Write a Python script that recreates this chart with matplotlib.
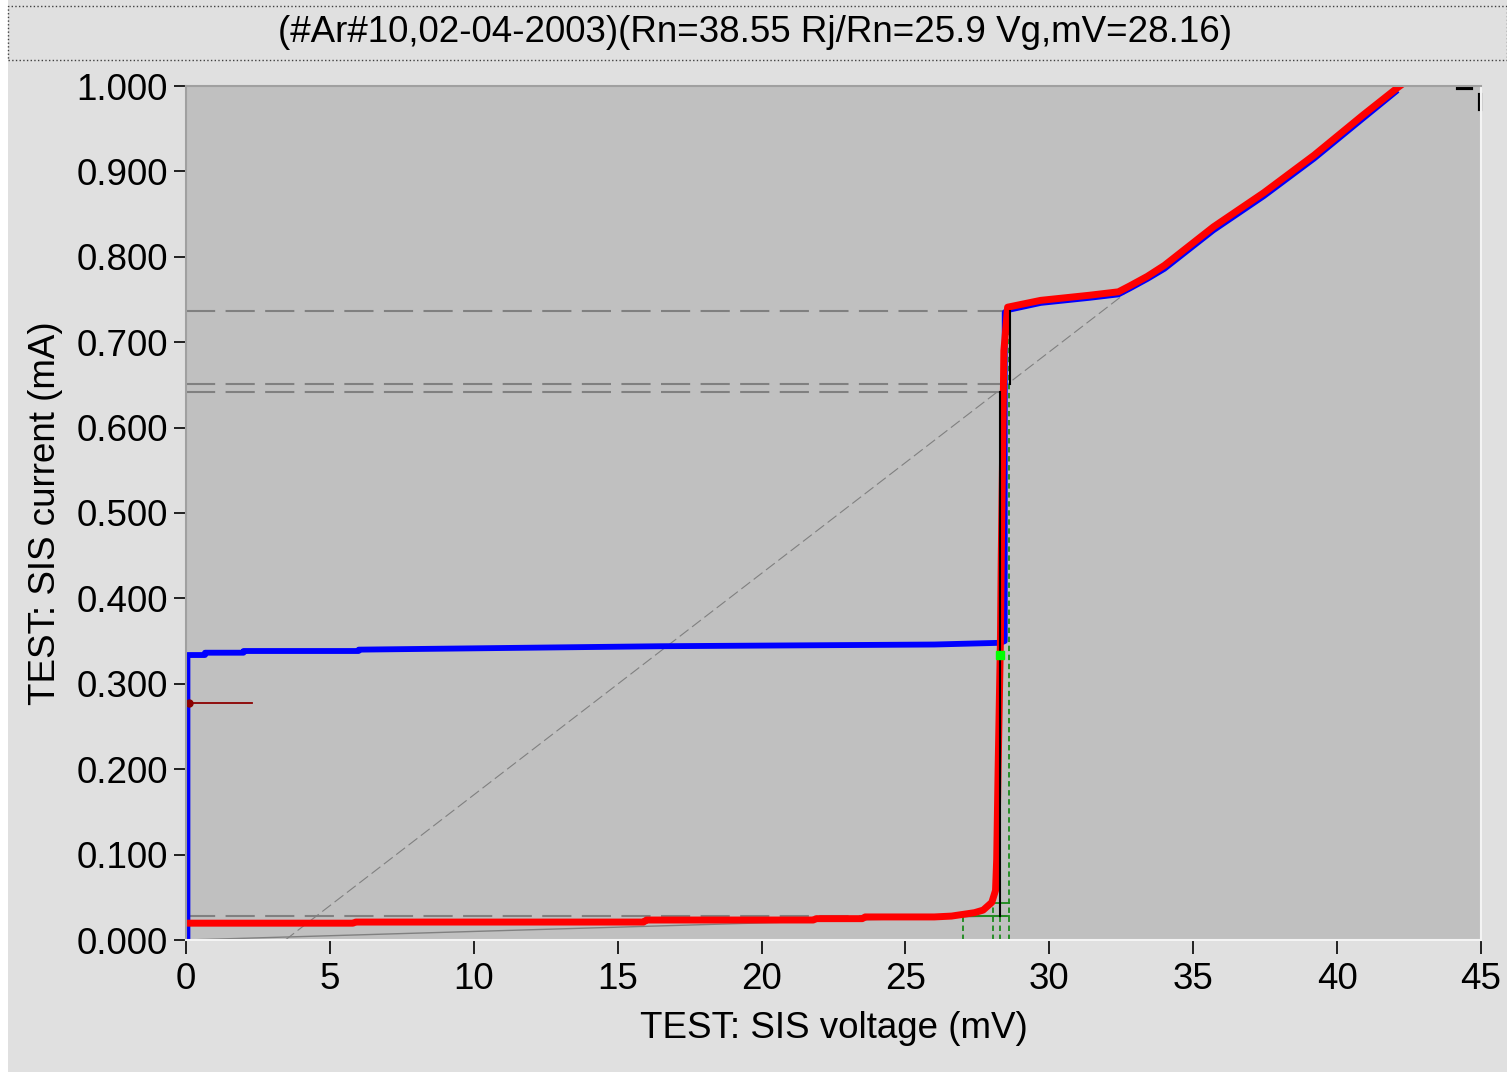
import matplotlib
matplotlib.use("Agg")
import matplotlib.pyplot as plt
from matplotlib.patches import Rectangle
import numpy as np

plt.rcParams['font.family'] = ['Liberation Sans', 'DejaVu Sans']

# measured IV curve (unpumped), mV / mA
v_dc = [0.0, 5.8, 5.9, 15.9, 16.0, 21.8, 21.9, 23.5, 23.6, 26.0, 26.6, 27.4, 27.7,
        28.0, 28.13, 28.17, 28.22, 28.3, 28.33, 28.38, 28.42, 28.55, 29.7, 31.4,
        32.4, 32.8, 33.4, 34.0, 35.7, 37.45, 39.2, 40.9, 42.1, 42.3]
i_dc = [0.0197, 0.0197, 0.021, 0.021, 0.0234, 0.0234, 0.025, 0.025, 0.027, 0.027,
        0.028, 0.032, 0.035, 0.044, 0.058, 0.094, 0.20, 0.35, 0.45, 0.58, 0.69,
        0.741, 0.749, 0.755, 0.759, 0.766, 0.777, 0.790, 0.835, 0.875, 0.919, 0.966,
        0.998, 1.003]

# pumped IV curve
v_lo = [0.05, 0.05, 0.66, 0.66, 2.0, 2.0, 6.0, 6.0, 16.5, 26.0, 28.3, 28.45,
        28.45, 28.6, 29.7, 31.4, 32.4, 32.8, 33.4, 34.0, 35.7, 37.45, 39.2, 40.9, 42.1]
i_lo = [0.0, 0.3337, 0.3337, 0.3364, 0.3364, 0.3384, 0.3384, 0.340, 0.344, 0.346,
        0.348, 0.350, 0.735, 0.738, 0.746, 0.752, 0.756, 0.763, 0.774, 0.786, 0.831,
        0.871, 0.915, 0.962, 0.995]

v_gap = 28.16
rn = 38.55
rj = rn * 25.9
v_off = 3.45          # intercept of the normal-state line
i_levels = [0.737, 0.651, 0.642, 0.028]
v_marker, i_marker = 0.1, 0.2775
v_green, i_green = 28.3, 0.334

title = "(#Ar#10,02-04-2003)(Rn=38.55 Rj/Rn=25.9 Vg,mV=28.16)"

W, H = 1507, 1072
fig = plt.figure(figsize=(W / 100, H / 100), dpi=100, facecolor='#e0e0e0')

# white strip on the left and the dotted caption box
fig.add_artist(Rectangle((0, 0), 8 / W, 1, transform=fig.transFigure,
                         facecolor='white', edgecolor='none'))
fig.add_artist(Rectangle((8 / W, 1 - 60 / H), 1 - 8 / W, 54 / H, transform=fig.transFigure,
                         facecolor='#e0e0e0', edgecolor='#404040', linestyle=':', lw=1))
fig.text(0.501, 1 - 33 / H, title, ha='center', va='center', fontsize=26.5)

ax = fig.add_axes([186 / W, 132 / H, 1295 / W, 854 / H], facecolor='#c0c0c0')
ax.set_xlim(0, 45)
ax.set_ylim(0, 1.0)

# horizontal dashed current levels
for lvl in i_levels:
    xe = 28.3 if lvl == 0.642 else 28.55
    ax.plot([0, xe], [lvl, lvl], color='#808080', lw=1.5, dashes=(14, 5))

# Rn line and subgap (Rj) line
vn = np.array([v_off, 32.6])
ax.plot(vn, (vn - v_off) / rn, color='#808080', lw=0.8, dashes=(10, 4))
vs = np.array([0, v_gap])
ax.plot(vs, vs / rj, color='#808080', lw=1.0)

# green construction lines around the gap
gc = '#1a8a1a'
ax.plot([27.0, 27.0], [0, 0.028], color=gc, lw=1.3, dashes=(3, 2))
ax.plot([28.05, 28.05], [0, 0.0435], color=gc, lw=1.3, dashes=(3, 2))
ax.plot([28.3, 28.3], [0, 0.028], color=gc, lw=1.3, dashes=(3, 2))
ax.plot([28.6, 28.6], [0, 0.737], color=gc, lw=1.3, dashes=(3, 2))
ax.plot([27.0, 28.6], [0.028, 0.028], color=gc, lw=1.3)
ax.plot([28.05, 28.6], [0.0435, 0.0435], color=gc, lw=1.3)

ax.plot(v_lo, i_lo, color='#0000ff', lw=4.2, solid_capstyle='butt')
ax.plot(v_dc, i_dc, color='#ff0000', lw=5.0, solid_joinstyle='round')

# black gap markers
ax.plot([28.3, 28.3], [0.028, 0.642], color='black', lw=1.5)
ax.plot([28.62, 28.62], [0.651, 0.737], color='black', lw=1.5)

ax.plot([v_green], [i_green], marker='s', color='#00ff00', ms=6, mec='#00ff00')
ax.plot([v_marker, 2.3], [i_marker, i_marker], color='#8b0000', lw=1.3)
ax.plot([v_marker], [i_marker], marker='o', color='#8b0000', ms=5)

# small black cursor marks in the corner
ax.plot([44.2, 44.65], [0.9975, 0.9975], color='black', lw=3, clip_on=False)
ax.plot([44.95, 44.95], [0.973, 0.99], color='black', lw=3, clip_on=False)

ax.set_xticks(np.arange(0, 46, 5))
ax.set_yticks(np.arange(0, 1.01, 0.1))
ax.set_yticklabels(['%.3f' % t for t in np.arange(0, 1.01, 0.1)])
ax.tick_params(axis='x', length=10, width=1.2, pad=6, labelsize=26.5)
ax.tick_params(axis='y', length=9, width=1.2, pad=4, labelsize=26.5)

ax.set_xlabel('TEST: SIS voltage (mV)', fontsize=26.5, labelpad=10)
ax.set_ylabel('TEST: SIS current (mA)', fontsize=26.5, labelpad=10)

for side in ('left', 'top'):
    ax.spines[side].set_color('#a0a0a0')
    ax.spines[side].set_linewidth(1.5)
for side in ('right', 'bottom'):
    ax.spines[side].set_color('#f4f4f4')
    ax.spines[side].set_linewidth(1.5)

fig.savefig('out.png', dpi=100, facecolor=fig.get_facecolor())
